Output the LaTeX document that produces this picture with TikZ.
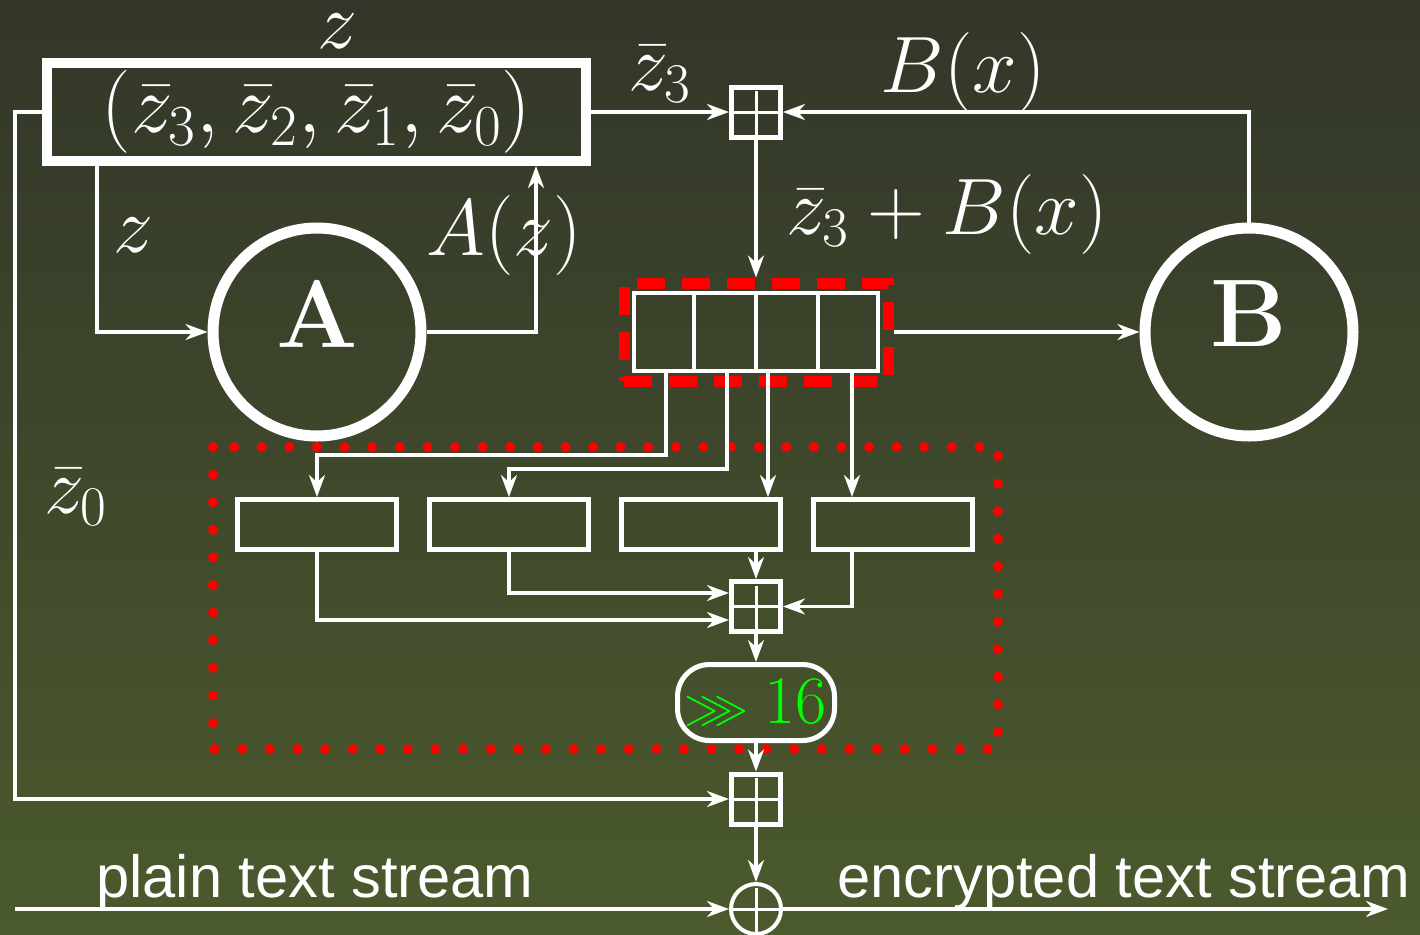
\documentclass[tikz,border=0pt]{standalone}
\usepackage{fix-cm}
\usepackage{amssymb}
\usepackage{fontspec}
\newfontfamily\ciphsans{Liberation Sans}
\usetikzlibrary{arrows.meta,calc,fit,positioning}
\definecolor{ciphtop}{RGB}{50,54,41}
\definecolor{ciphbottom}{RGB}{75,90,45}
\definecolor{ciphred}{RGB}{255,0,0}
\definecolor{ciphgreen}{RGB}{0,255,0}
\tikzset{%
  ciphlabel/.style={%
    text=white,
    inner sep=0pt,
    font=\fontsize{40}{48}\selectfont
  },
  ciphtext/.style={%
    text=white,
    inner sep=0pt,
    font=\ciphsans\fontsize{29.8}{35}\selectfont
  },
  ciphreg/.style={%
    draw=white,
    line width=5pt,
    minimum width=269.5pt,
    minimum height=49pt,
    inner sep=0pt,
    text=white,
    font=\fontsize{41.5}{48}\selectfont
  },
  ciphfunc/.style={%
    circle,
    draw=white,
    line width=5.5pt,
    minimum size=104pt,
    inner sep=0pt,
    text=white,
    text depth=18pt,
    font=\fontsize{48}{58}\selectfont\bfseries
  },
  ciphadd/.style={%
    draw=white,
    line width=2.5pt,
    minimum width=24.5pt,
    minimum height=25pt,
    inner sep=0pt,
    path picture={\draw[white,line width=1.5pt]
      ([yshift=-2pt]path picture bounding box.north) -- (path picture bounding box.south)
      (path picture bounding box.west) -- (path picture bounding box.east);}
  },
  ciphxor/.style={%
    ciphadd,
    circle,
    line width=2pt,
    minimum size=25pt
  },
  ciphcells/.style={%
    draw=white,
    line width=2pt,
    minimum width=122pt,
    minimum height=39pt,
    inner sep=0pt
  },
  ciphbox/.style={%
    draw=white,
    line width=2.5pt,
    minimum width=79.5pt,
    minimum height=25pt,
    inner sep=0pt
  },
  ciphshift/.style={%
    draw=white,
    line width=2.5pt,
    rounded corners=16pt,
    minimum width=78.5pt,
    minimum height=38pt,
    inner sep=0pt,
    text=ciphgreen,
    font=\fontsize{34}{40}\selectfont
  },
  ciphdash/.style={draw=ciphred,line width=5.5pt,dash pattern=on 14pt off 8.5pt,inner sep=4pt},
  ciphdots/.style={draw=ciphred,line width=5pt,line cap=round,dash pattern=on 0pt off 13.8pt},
  ciphflow/.style={-{Stealth[length=11pt,width=8pt,inset=3.5pt]},draw=white,line width=1.6pt}
}
\begin{document}
\begin{tikzpicture}[x=0.5pt,y=-0.5pt,node distance=14pt]
    \shade[top color=ciphtop,bottom color=ciphbottom] (0,0) rectangle (1420,934);
    \useasboundingbox (0,0) rectangle (1420,934);
    \draw[ciphdots] (213,447) rectangle (998,749);

    \node[ciphreg] (zreg) at (316.5,112) {$(\bar z_3,\bar z_2,\bar z_1,\bar z_0)$};
    \node[ciphfunc] (fA) at (317,332) {A};
    \node[ciphfunc] (fB) at (1249,332) {B};
    \node[ciphadd] (add1) at (756,112) {};
    \node[ciphcells] (reg) at (756,332) {};
    \node[ciphdash,fit=(reg)] (regfr) {};
    \node[ciphbox] (box1) at (317,524.5) {};
    \node[ciphbox,right=of box1] (box2) {};
    \node[ciphbox,right=of box2] (box3) {};
    \node[ciphbox,right=of box3] (box4) {};
    \node[ciphadd] (add2) at (756,606.5) {};
    \node[ciphshift] (shift) at (756,702.5) {{\fontsize{24}{28}\selectfont$\ggg$}\kern8pt$16$};
    \node[ciphadd] (add3) at (756,799) {};
    \node[ciphxor] (xor) at (756,909) {};

    \node[ciphlabel] (lz) at (337,31) {$z$};
    \node[ciphlabel] (lz3) at (660,74) {$\bar z_3$};
    \node[ciphlabel] (lbx) at (963,72) {$B(x)$};
    \node[ciphlabel] (lsum) at (947,214) {$\bar z_3+B(x)$};
    \node[ciphlabel] (lzin) at (133,235) {$z$};
    \node[ciphlabel] (laz) at (504,235) {$A(z)$};
    \node[ciphlabel] (lz0) at (76,497) {$\bar z_0$};
    \node[ciphtext,anchor=base] (lplain) at (315,897) {plain text stream};
    \node[ciphtext,anchor=base] (lenc) at (1124,897) {encrypted text stream};

    \foreach \k in {0.25,0.5,0.75}
      \draw[white,line width=2pt] ($(reg.north west)!\k!(reg.north east)$) -- ($(reg.south west)!\k!(reg.south east)$);

    \coordinate (c3) at ($(reg.south west)+(136,0)$);
    \coordinate (c4) at ($(reg.south west)+(220,0)$);
    \coordinate (pin) at (15,909);
    \coordinate (pout) at (1388,909);

    \draw[ciphflow] (zreg.east) -- (add1.west);
    \draw[ciphflow] (fB.north) |- (add1.east);
    \draw[ciphflow] (add1) -- (regfr);
    \draw[ciphflow] (regfr) -- (fB);
    \draw[ciphflow] ([xshift=27.5pt]zreg.south west) |- (fA.west);
    \draw[ciphflow] (fA.east) -| ([xshift=-27.5pt]zreg.south east);
    \draw[ciphflow] (zreg.west) -- ++(-27,0) |- (add3.west);

    \draw[ciphflow] ($(reg.south west)+(34,0)$) -- ++(0,82) -| (box1.north);
    \draw[ciphflow] ($(reg.south west)+(95,0)$) -- ++(0,96) -| (box2.north);
    \draw[ciphflow] (c3) -- (c3 |- box3.north);
    \draw[ciphflow] (c4) -- (c4 |- box4.north);

    \draw[ciphflow] (box1.south) |- ($(add2.west)+(0,13.5)$);
    \draw[ciphflow] (box2.south) |- ($(add2.west)+(0,-13.5)$);
    \draw[ciphflow] (add2.north |- box3.south) -- (add2.north);
    \draw[ciphflow] (c4 |- box4.south) |- (add2.east);
    \draw[ciphflow] (add2) -- (shift);
    \draw[ciphflow] (shift) -- (add3);
    \draw[ciphflow] (add3) -- (xor);
    \draw[ciphflow] (pin) -- (xor);
    \draw[ciphflow] (xor) -- (pout);
  \end{tikzpicture}
\end{document}
